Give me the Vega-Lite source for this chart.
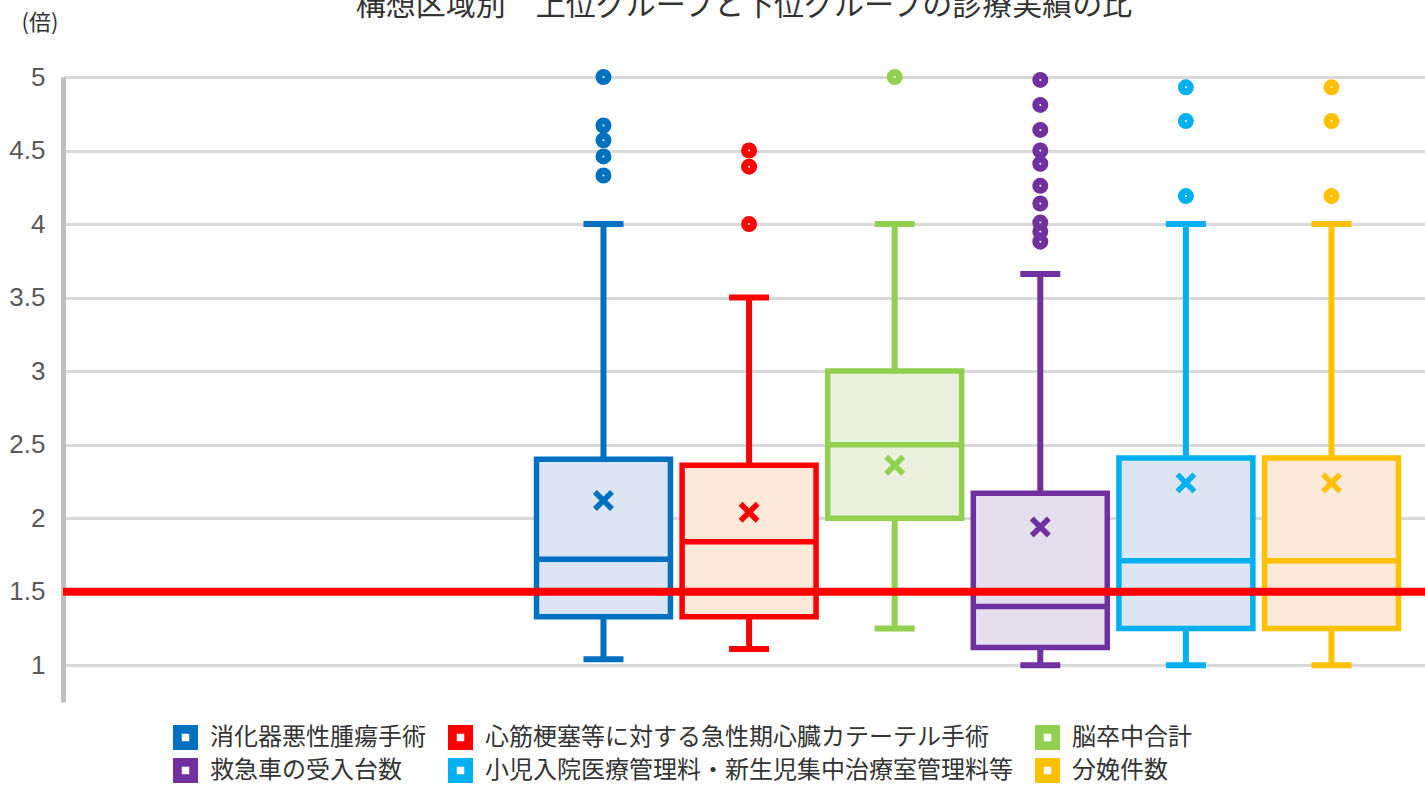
{
  "$schema": "https://vega.github.io/schema/vega-lite/v6.json",
  "width": 1362,
  "height": 625,
  "autosize": {"type": "none"},
  "padding": {"left": 63, "top": 77, "right": 0, "bottom": 83},
  "background": "white",
  "title": {"text": "構想区域別　上位グループと下位グループの診療実績の比", "fontSize": 30, "font": "Noto Sans CJK JP", "fontWeight": "normal", "color": "#333333", "offset": 0, "dy": 10, "anchor": "middle"},
  "config": {"view": {"stroke": null}, "font": "Noto Sans CJK JP"},
  "datasets": {
    "stats": [
      {"cat": "消化器悪性腫瘍手術", "lo": 1.04, "q1": 1.33, "med": 1.72, "q3": 2.40, "hi": 4.0, "mean": 2.12},
      {"cat": "心筋梗塞等に対する急性期心臓カテーテル手術", "lo": 1.11, "q1": 1.33, "med": 1.84, "q3": 2.36, "hi": 3.5, "mean": 2.04},
      {"cat": "脳卒中合計", "lo": 1.25, "q1": 2.0, "med": 2.5, "q3": 3.0, "hi": 4.0, "mean": 2.36},
      {"cat": "救急車の受入台数", "lo": 1.0, "q1": 1.12, "med": 1.40, "q3": 2.17, "hi": 3.66, "mean": 1.94},
      {"cat": "小児入院医療管理料・新生児集中治療室管理料等", "lo": 1.0, "q1": 1.25, "med": 1.71, "q3": 2.41, "hi": 4.0, "mean": 2.24},
      {"cat": "分娩件数", "lo": 1.0, "q1": 1.25, "med": 1.71, "q3": 2.41, "hi": 4.0, "mean": 2.24}
    ],
    "outliers": [
      {"cat": "消化器悪性腫瘍手術", "v": 5.0},
      {"cat": "消化器悪性腫瘍手術", "v": 4.67},
      {"cat": "消化器悪性腫瘍手術", "v": 4.57},
      {"cat": "消化器悪性腫瘍手術", "v": 4.46},
      {"cat": "消化器悪性腫瘍手術", "v": 4.33},
      {"cat": "心筋梗塞等に対する急性期心臓カテーテル手術", "v": 4.5},
      {"cat": "心筋梗塞等に対する急性期心臓カテーテル手術", "v": 4.39},
      {"cat": "心筋梗塞等に対する急性期心臓カテーテル手術", "v": 4.0},
      {"cat": "脳卒中合計", "v": 5.0},
      {"cat": "救急車の受入台数", "v": 4.98},
      {"cat": "救急車の受入台数", "v": 4.81},
      {"cat": "救急車の受入台数", "v": 4.64},
      {"cat": "救急車の受入台数", "v": 4.50},
      {"cat": "救急車の受入台数", "v": 4.41},
      {"cat": "救急車の受入台数", "v": 4.26},
      {"cat": "救急車の受入台数", "v": 4.14},
      {"cat": "救急車の受入台数", "v": 4.01},
      {"cat": "救急車の受入台数", "v": 3.95},
      {"cat": "救急車の受入台数", "v": 3.88},
      {"cat": "小児入院医療管理料・新生児集中治療室管理料等", "v": 4.93},
      {"cat": "小児入院医療管理料・新生児集中治療室管理料等", "v": 4.70},
      {"cat": "小児入院医療管理料・新生児集中治療室管理料等", "v": 4.19},
      {"cat": "分娩件数", "v": 4.93},
      {"cat": "分娩件数", "v": 4.70},
      {"cat": "分娩件数", "v": 4.19}
    ]
  },
  "layer": [
    {
      "data": {"name": "stats"},
      "mark": {"type": "rule", "strokeWidth": 6},
      "encoding": {
        "x": {"field": "cat", "type": "nominal", "scale": {"domain": [" ", "  ", "消化器悪性腫瘍手術", "心筋梗塞等に対する急性期心臓カテーテル手術", "脳卒中合計", "救急車の受入台数", "小児入院医療管理料・新生児集中治療室管理料等", "分娩件数"], "paddingInner": 0.08, "paddingOuter": 0.717, "align": 0.873}, "axis": null},
        "y": {"field": "lo", "type": "quantitative", "scale": {"domain": [0.75, 5], "nice": false, "zero": false},
          "axis": {"values": [1, 1.5, 2, 2.5, 3, 3.5, 4, 4.5, 5], "format": "~g", "grid": true, "gridColor": "#D9D9D9", "gridWidth": 3, "domainColor": "#BFBFBF", "domainWidth": 5, "ticks": false, "labelPadding": 18, "labelFontSize": 26, "labelColor": "#595959", "labelFont": "Liberation Sans", "labelFlush": false, "title": "(倍)", "titleAngle": 0, "titleX": -42, "titleY": -55, "titleAlign": "left", "titleBaseline": "middle", "titleFontSize": 22, "titleFontWeight": "normal", "titleColor": "#333333", "titleFont": "Noto Sans CJK JP"}},
        "y2": {"field": "hi"},
        "color": {"field": "cat", "type": "nominal", "scale": {"domain": ["消化器悪性腫瘍手術", "心筋梗塞等に対する急性期心臓カテーテル手術", "脳卒中合計", "救急車の受入台数", "小児入院医療管理料・新生児集中治療室管理料等", "分娩件数"], "range": ["#0070C0", "#FF0000", "#92D050", "#7030A0", "#00B0F0", "#FFC000"]},
          "legend": {"orient": "none", "direction": "horizontal", "legendX": 110, "legendY": 648, "columns": 3, "title": null, "labelFontSize": 24, "labelFont": "Noto Sans CJK JP", "labelColor": "#333333", "symbolType": "M-1,-1H1V1H-1Z M-0.3,-0.3V0.3H0.3V-0.3Z", "symbolSize": 625, "symbolStrokeWidth": 0, "labelOffset": 12, "columnPadding": 22, "rowPadding": 8, "labelLimit": 0, "padding": 0}}
      }
    },
    {
      "data": {"name": "stats"},
      "mark": {"type": "bar", "strokeWidth": 5.5},
      "encoding": {
        "x": {"field": "cat", "type": "nominal"},
        "y": {"field": "q1", "type": "quantitative"},
        "y2": {"field": "q3"},
        "fill": {"field": "cat", "type": "nominal", "scale": {"domain": ["消化器悪性腫瘍手術", "心筋梗塞等に対する急性期心臓カテーテル手術", "脳卒中合計", "救急車の受入台数", "小児入院医療管理料・新生児集中治療室管理料等", "分娩件数"], "range": ["#DCE6F2", "#FCE9DA", "#EBF1DE", "#E4DFEC", "#DCE6F2", "#FCE9DA"]}, "legend": null},
        "stroke": {"field": "cat", "type": "nominal", "scale": {"domain": ["消化器悪性腫瘍手術", "心筋梗塞等に対する急性期心臓カテーテル手術", "脳卒中合計", "救急車の受入台数", "小児入院医療管理料・新生児集中治療室管理料等", "分娩件数"], "range": ["#0070C0", "#FF0000", "#92D050", "#7030A0", "#00B0F0", "#FFC000"]}, "legend": null}
      }
    },
    {
      "data": {"name": "stats"},
      "mark": {"type": "tick", "thickness": 5.5, "size": 134, "opacity": 1},
      "encoding": {
        "x": {"field": "cat", "type": "nominal"},
        "y": {"field": "med", "type": "quantitative"},
        "color": {"field": "cat", "type": "nominal"}
      }
    },
    {
      "data": {"name": "stats"},
      "mark": {"type": "tick", "thickness": 6, "size": 40, "opacity": 1},
      "encoding": {
        "x": {"field": "cat", "type": "nominal"},
        "y": {"field": "lo", "type": "quantitative"},
        "color": {"field": "cat", "type": "nominal"}
      }
    },
    {
      "data": {"name": "stats"},
      "mark": {"type": "tick", "thickness": 6, "size": 40, "opacity": 1},
      "encoding": {
        "x": {"field": "cat", "type": "nominal"},
        "y": {"field": "hi", "type": "quantitative"},
        "color": {"field": "cat", "type": "nominal"}
      }
    },
    {
      "data": {"name": "stats"},
      "mark": {"type": "point", "shape": "M-1,-1L1,1M-1,1L1,-1", "size": 289, "strokeWidth": 5.5, "filled": false, "opacity": 1},
      "encoding": {
        "x": {"field": "cat", "type": "nominal"},
        "y": {"field": "mean", "type": "quantitative"},
        "color": {"field": "cat", "type": "nominal"}
      }
    },
    {
      "data": {"name": "outliers"},
      "mark": {"type": "point", "shape": "circle", "size": 81, "strokeWidth": 7, "filled": false, "fill": "white", "opacity": 1},
      "encoding": {
        "x": {"field": "cat", "type": "nominal"},
        "y": {"field": "v", "type": "quantitative"},
        "color": {"field": "cat", "type": "nominal"}
      }
    },
    {
      "data": {"values": [{}]},
      "mark": {"type": "rule", "color": "#FF0000", "strokeWidth": 8},
      "encoding": {"y": {"datum": 1.5}}
    }
  ]
}
